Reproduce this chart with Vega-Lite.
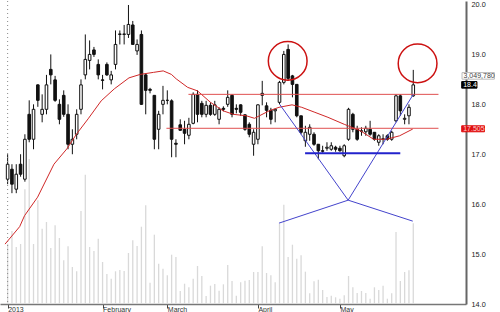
{
"$schema": "https://vega.github.io/schema/vega-lite/v6.json",
"width": 466, "height": 303, "padding": 0, "background": "white",
"config": {"view": {"stroke": null}, "font": "Liberation Sans",
"axisY": {"title": null, "values":[14,15,16,17,18,19,20],"format":".1f","labelFontSize":7.3,"labelColor":"#222","ticks":false,"labelPadding":5,"domainColor":"#666","domainWidth":2,"grid":true,"gridDash":[1,3],"gridColor":"#8a8a8a","labelFlush":false}},
"datasets": {
"candles": [
{"i":0,"o":16.50,"h":17.00,"l":16.40,"c":16.80,"v":2279},
{"i":1,"o":16.70,"h":16.80,"l":16.22,"c":16.40,"v":2759},
{"i":2,"o":16.30,"h":16.80,"l":16.22,"c":16.60,"v":2154},
{"i":3,"o":16.80,"h":17.00,"l":16.55,"c":16.60,"v":2267},
{"i":4,"o":16.50,"h":17.40,"l":16.45,"c":17.30,"v":4335},
{"i":5,"o":17.80,"h":18.08,"l":17.24,"c":17.30,"v":5480},
{"i":6,"o":17.30,"h":18.00,"l":17.10,"c":17.90,"v":2267},
{"i":7,"o":18.39,"h":18.40,"l":17.95,"c":18.08,"v":3919},
{"i":8,"o":17.80,"h":18.20,"l":17.64,"c":17.90,"v":2846},
{"i":9,"o":17.90,"h":18.59,"l":17.80,"c":18.39,"v":3099},
{"i":10,"o":18.70,"h":19.00,"l":18.40,"c":18.59,"v":2116},
{"i":11,"o":18.49,"h":18.57,"l":18.05,"c":18.08,"v":2974},
{"i":12,"o":18.00,"h":18.10,"l":17.60,"c":17.70,"v":2494},
{"i":13,"o":18.18,"h":18.28,"l":17.75,"c":17.80,"v":1651},
{"i":14,"o":17.80,"h":18.00,"l":17.10,"c":17.20,"v":2180},
{"i":15,"o":17.20,"h":17.50,"l":17.00,"c":17.30,"v":1398},
{"i":16,"o":17.40,"h":17.90,"l":17.30,"c":17.80,"v":1236},
{"i":17,"o":17.90,"h":18.50,"l":17.80,"c":18.39,"v":3514},
{"i":18,"o":18.59,"h":19.40,"l":18.50,"c":18.90,"v":4886},
{"i":19,"o":18.88,"h":19.28,"l":18.70,"c":19.00,"v":2154},
{"i":20,"o":19.09,"h":19.15,"l":18.95,"c":19.00,"v":2003},
{"i":21,"o":18.80,"h":18.90,"l":18.50,"c":18.59,"v":2468},
{"i":22,"o":18.49,"h":18.59,"l":18.30,"c":18.48,"v":1587},
{"i":23,"o":18.80,"h":18.84,"l":18.57,"c":18.59,"v":1134},
{"i":24,"o":18.49,"h":18.67,"l":18.40,"c":18.59,"v":956},
{"i":25,"o":18.80,"h":19.48,"l":18.70,"c":19.20,"v":1236},
{"i":26,"o":19.40,"h":19.48,"l":19.20,"c":19.41,"v":1285},
{"i":27,"o":19.40,"h":19.59,"l":19.20,"c":19.41,"v":1247},
{"i":28,"o":19.40,"h":19.99,"l":19.33,"c":19.60,"v":1927},
{"i":29,"o":19.59,"h":19.67,"l":19.20,"c":19.20,"v":2407},
{"i":30,"o":19.07,"h":19.30,"l":18.99,"c":19.20,"v":2192},
{"i":31,"o":19.40,"h":19.48,"l":17.99,"c":18.00,"v":2921},
{"i":32,"o":18.59,"h":18.62,"l":17.80,"c":18.28,"v":3730},
{"i":33,"o":18.30,"h":18.33,"l":18.22,"c":18.28,"v":805},
{"i":34,"o":18.18,"h":18.18,"l":17.10,"c":17.30,"v":2619},
{"i":35,"o":17.50,"h":17.87,"l":17.10,"c":17.80,"v":1523},
{"i":36,"o":18.00,"h":18.37,"l":17.80,"c":18.08,"v":1334},
{"i":37,"o":18.08,"h":18.28,"l":18.00,"c":18.08,"v":1085},
{"i":38,"o":18.07,"h":18.10,"l":16.94,"c":17.30,"v":1863},
{"i":39,"o":17.22,"h":17.30,"l":16.94,"c":17.20,"v":1776},
{"i":40,"o":17.59,"h":17.70,"l":17.47,"c":17.48,"v":491},
{"i":41,"o":17.50,"h":17.67,"l":17.20,"c":17.42,"v":767},
{"i":42,"o":17.38,"h":17.73,"l":17.30,"c":17.60,"v":631},
{"i":43,"o":17.62,"h":18.24,"l":17.60,"c":18.20,"v":956},
{"i":44,"o":18.20,"h":18.28,"l":17.64,"c":17.80,"v":1436},
{"i":45,"o":18.02,"h":18.07,"l":17.74,"c":17.80,"v":1058},
{"i":46,"o":17.80,"h":18.07,"l":17.74,"c":17.98,"v":302},
{"i":47,"o":17.98,"h":18.04,"l":17.77,"c":17.80,"v":692},
{"i":48,"o":17.80,"h":18.07,"l":17.77,"c":17.99,"v":756},
{"i":49,"o":17.70,"h":17.94,"l":17.60,"c":17.90,"v":503},
{"i":50,"o":17.92,"h":17.96,"l":17.86,"c":17.90,"v":744},
{"i":51,"o":18.00,"h":18.28,"l":17.95,"c":18.14,"v":1474},
{"i":52,"o":18.18,"h":18.20,"l":17.74,"c":17.80,"v":869},
{"i":53,"o":17.92,"h":18.00,"l":17.82,"c":17.90,"v":314},
{"i":54,"o":17.99,"h":18.00,"l":17.77,"c":17.84,"v":820},
{"i":55,"o":17.79,"h":17.80,"l":17.47,"c":17.50,"v":881},
{"i":56,"o":17.60,"h":17.64,"l":17.34,"c":17.40,"v":907},
{"i":57,"o":17.20,"h":17.50,"l":16.97,"c":17.44,"v":1209},
{"i":58,"o":17.30,"h":18.00,"l":17.20,"c":17.99,"v":1209},
{"i":59,"o":18.18,"h":18.47,"l":17.98,"c":18.22,"v":2180},
{"i":60,"o":17.97,"h":18.04,"l":17.74,"c":17.88,"v":1171},
{"i":61,"o":17.88,"h":17.93,"l":17.60,"c":17.70,"v":1085},
{"i":62,"o":17.87,"h":17.90,"l":17.64,"c":17.90,"v":820},
{"i":63,"o":18.04,"h":18.47,"l":18.00,"c":18.44,"v":3035},
{"i":64,"o":18.44,"h":19.07,"l":18.40,"c":19.00,"v":3753},
{"i":65,"o":19.10,"h":19.20,"l":18.47,"c":18.52,"v":1776},
{"i":66,"o":18.57,"h":18.59,"l":18.14,"c":18.40,"v":2241},
{"i":67,"o":18.40,"h":18.40,"l":17.74,"c":17.77,"v":1712},
{"i":68,"o":17.77,"h":17.77,"l":17.40,"c":17.44,"v":1840},
{"i":69,"o":17.27,"h":17.57,"l":17.15,"c":17.44,"v":1221},
{"i":70,"o":17.40,"h":17.60,"l":17.27,"c":17.54,"v":404},
{"i":71,"o":17.40,"h":17.44,"l":17.17,"c":17.20,"v":858},
{"i":72,"o":17.20,"h":17.20,"l":16.90,"c":17.07,"v":918},
{"i":73,"o":17.07,"h":17.17,"l":17.03,"c":17.06,"v":529},
{"i":74,"o":17.12,"h":17.24,"l":17.07,"c":17.14,"v":265},
{"i":75,"o":17.10,"h":17.24,"l":17.07,"c":17.17,"v":314},
{"i":76,"o":17.14,"h":17.17,"l":17.05,"c":17.10,"v":253},
{"i":77,"o":17.12,"h":17.17,"l":17.05,"c":17.07,"v":200},
{"i":78,"o":16.97,"h":17.20,"l":16.94,"c":17.17,"v":329},
{"i":79,"o":17.30,"h":17.93,"l":17.27,"c":17.90,"v":1058},
{"i":80,"o":17.80,"h":17.83,"l":17.44,"c":17.50,"v":631},
{"i":81,"o":17.50,"h":17.57,"l":17.27,"c":17.30,"v":416},
{"i":82,"o":17.46,"h":17.54,"l":17.37,"c":17.47,"v":491},
{"i":83,"o":17.45,"h":17.57,"l":17.37,"c":17.52,"v":416},
{"i":84,"o":17.50,"h":17.67,"l":17.37,"c":17.40,"v":200},
{"i":85,"o":17.44,"h":17.44,"l":17.27,"c":17.30,"v":631},
{"i":86,"o":17.24,"h":17.40,"l":17.17,"c":17.37,"v":529},
{"i":87,"o":17.30,"h":17.40,"l":17.20,"c":17.31,"v":692},
{"i":88,"o":17.37,"h":17.40,"l":17.27,"c":17.30,"v":200},
{"i":89,"o":17.30,"h":17.47,"l":17.27,"c":17.44,"v":404},
{"i":90,"o":17.67,"h":18.20,"l":17.64,"c":18.17,"v":2721},
{"i":91,"o":18.17,"h":18.20,"l":17.77,"c":17.87,"v":869},
{"i":92,"o":17.70,"h":17.80,"l":17.60,"c":17.72,"v":1209},
{"i":93,"o":17.77,"h":18.00,"l":17.60,"c":17.94,"v":1274},
{"i":94,"o":18.17,"h":18.69,"l":18.15,"c":18.39,"v":3050}
],
"ma": [
{"i":-0.6,"p":15.20},{"i":2.79,"p":15.55},{"i":3.92,"p":15.77},{"i":6.94,"p":16.14},{"i":10.73,"p":16.80},
{"i":13.74,"p":17.11},{"i":16.01,"p":17.41},{"i":18.66,"p":17.71},{"i":21.68,"p":18.07},{"i":24.72,"p":18.31},
{"i":28.12,"p":18.53},{"i":30.75,"p":18.60},{"i":33.79,"p":18.64},{"i":36.05,"p":18.67},{"i":37.94,"p":18.60},
{"i":39.07,"p":18.51},{"i":41.72,"p":18.34},{"i":43.99,"p":18.27},{"i":47.01,"p":18.04},{"i":49.95,"p":17.87},
{"i":52.29,"p":17.80},{"i":55.33,"p":17.77},{"i":57.21,"p":17.72},{"i":58.34,"p":17.77},{"i":60.61,"p":17.87},
{"i":62.88,"p":17.94},{"i":65.90,"p":17.99},{"i":68.16,"p":17.94},{"i":71.20,"p":17.84},{"i":74.22,"p":17.74},
{"i":78.0,"p":17.60},{"i":81.77,"p":17.47},{"i":84.81,"p":17.30},{"i":87.82,"p":17.30},{"i":90.84,"p":17.37},
{"i":93.88,"p":17.505}
],
"edge": [{"i":0}],
"levels": [{"i":41.9,"i2":99.84,"p":18.20},{"i":36.8,"i2":99.84,"p":17.52}],
"blue": [
{"i":63.04,"p":18.0,"i2":78.91,"p2":16.08},
{"i":78.91,"p":16.08,"i2":94.0,"p2":18.20},
{"i":62.88,"p":15.62,"i2":78.91,"p2":16.08},
{"i":78.91,"p":16.08,"i2":93.88,"p2":15.66}
],
"support": [{"i":68.93,"i2":90.99,"p":17.02}],
"circles": [{"i":64.9,"p":18.87},{"i":95.0,"p":18.82}],
"tags": [
{"tag":"vol","label":"3,049,780","i":105.3,"i2":112.8,"p":18.636,"p2":18.504,"pm":18.57},
{"tag":"last","label":"18.4","i":105.22,"i2":108.76,"p":18.456,"p2":18.324,"pm":18.39},
{"tag":"ma","label":"17.505","i":105.22,"i2":110.5,"p":17.57,"p2":17.45,"pm":17.51}
]
},
"encoding": {
"x": {"field":"i","type":"quantitative","scale":{"domain":[-0.61,105.06],"nice":false,"zero":false},
"axis":{"title":null,"values":[0,22,37,58,77],
"labelExpr":"datum.value==0?'2013':datum.value==22?'February':datum.value==37?'March':datum.value==58?'April':'May'",
"labelAlign":"left","labelDx":1,"labelFontSize":7,"labelColor":"#333","labelBaseline":"top","tickSize":4,"tickColor":"#444","labelPadding":-3,
"domainColor":"#777","domainWidth":1.5,"grid":false,"labelOverlap":false,"labelFlush":false}}
},
"layer": [
{"data":{"name":"candles"},"mark":{"type":"bar","width":1.3,"color":"#d9d9d9"},
"encoding":{"y":{"field":"v","type":"quantitative","scale":{"domain":[0,11450],"nice":false},"axis":null}}},
{"layer":[
{"data":{"name":"candles"},"mark":{"type":"rule","color":"#111","strokeWidth":1},
"encoding":{"y":{"field":"l","type":"quantitative","scale":{"domain":[14,20.07],"nice":false,"zero":false},"axis":{"orient":"right","title":null}},
"y2":{"field":"h"}}},
{"data":{"name":"edge"},"mark":{"type":"rule","color":"#8a8a8a","strokeWidth":1,"strokeDash":[1,3]},
"encoding":{}},
{"data":{"name":"candles"},"mark":{"type":"bar","width":2.6,"stroke":"#111","strokeWidth":1},
"encoding":{"y":{"field":"o","type":"quantitative","axis":{"orient":"right","title":null}},"y2":{"field":"c"},
"fill":{"condition":{"test":"datum.c < datum.o","value":"#111"},"value":"white"}}},
{"data":{"name":"ma"},"mark":{"type":"line","color":"#d02828","strokeWidth":1},
"encoding":{"y":{"field":"p","type":"quantitative","axis":{"orient":"right","title":null}}}},
{"data":{"name":"levels"},"mark":{"type":"rule","color":"#e05050","strokeWidth":1},
"encoding":{"x2":{"field":"i2"},"y":{"field":"p","type":"quantitative","axis":{"orient":"right","title":null}}}},
{"data":{"name":"blue"},"mark":{"type":"rule","color":"#4444cc","strokeWidth":1},
"encoding":{"x2":{"field":"i2"},"y":{"field":"p","type":"quantitative","axis":{"orient":"right","title":null}},"y2":{"field":"p2"}}},
{"data":{"name":"support"},"mark":{"type":"rule","color":"#2222cc","strokeWidth":2.2},
"encoding":{"x2":{"field":"i2"},"y":{"field":"p","type":"quantitative","axis":{"orient":"right","title":null}}}},
{"data":{"name":"circles"},"mark":{"type":"point","shape":"circle","filled":false,"stroke":"#cc1111","strokeWidth":1.5,"size":1500,"opacity":1},
"encoding":{"y":{"field":"p","type":"quantitative","axis":{"orient":"right","title":null}}}},
{"data":{"name":"tags"},"mark":{"type":"rect","strokeWidth":1},
"encoding":{"x2":{"field":"i2"},"y":{"field":"p","type":"quantitative","axis":{"orient":"right","title":null}},"y2":{"field":"p2"},
"fill":{"field":"tag","type":"nominal","scale":{"domain":["vol","last","ma"],"range":["white","#000000","#e01010"]},"legend":null},
"stroke":{"field":"tag","type":"nominal","scale":{"domain":["vol","last","ma"],"range":["#bbbbbb","#000000","#e01010"]},"legend":null}}},
{"data":{"name":"tags"},"mark":{"type":"text","align":"left","baseline":"middle","dx":1.5,"fontSize":7},
"encoding":{"y":{"field":"pm","type":"quantitative","axis":{"orient":"right","title":null}},"text":{"field":"label"},
"color":{"field":"tag","type":"nominal","scale":{"domain":["vol","last","ma"],"range":["#444444","white","#ffd0d0"]},"legend":null}}}
]}
],
"resolve":{"scale":{"y":"independent"}}
}
